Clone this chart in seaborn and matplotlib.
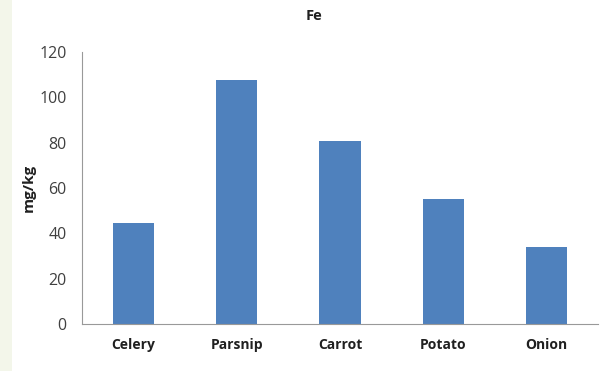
import matplotlib
matplotlib.use("Agg")
import matplotlib.pyplot as plt
import seaborn as sns
import pandas as pd
from matplotlib.patches import Rectangle

categories = ["Celery", "Parsnip", "Carrot", "Potato", "Onion"]
values = [44.7, 107.4, 80.5, 55.3, 34.2]
yticks = [0, 20, 40, 60, 80, 100, 120]

df = pd.DataFrame({"veg": categories, "fe": values})

sns.set_style("white")
plt.rcParams["font.family"] = ["Open Sans", "DejaVu Sans"]

fig = plt.figure(figsize=(6.06, 3.71), dpi=100)
fig.patches.append(Rectangle((0, 0), 12 / 606, 1, transform=fig.transFigure,
                             facecolor="#f3f6ea", edgecolor="none", zorder=0))
ax = fig.add_axes([82 / 606, 1 - 324.3 / 371, (598 - 82) / 606, (324.3 - 51.7) / 371])

sns.barplot(data=df, x="veg", y="fe", color="#4F81BD", saturation=1, width=0.4,
            ax=ax, edgecolor="none")

ax.set_ylim(0, 120)
ax.set_xlim(-0.5, 4.5)
ax.set_yticks(yticks)
ax.set_yticklabels([str(t) for t in yticks], fontsize=11.5, color="#404040")
ax.set_xticks(range(len(categories)))
ax.set_xticklabels(categories, fontsize=10, fontweight="bold", color="#202020")
ax.set_xticks([i - 0.5 for i in range(len(categories) + 1)], minor=True)
ax.tick_params(axis="x", which="major", length=0, pad=10)
ax.tick_params(axis="x", which="minor", length=5, color="#999999", width=0.8, direction="out")
ax.tick_params(axis="y", length=5, color="#999999", width=0.8, direction="out", pad=6)
for s in ["top", "right"]:
    ax.spines[s].set_visible(False)
for s in ["left", "bottom"]:
    ax.spines[s].set_color("#999999")
    ax.spines[s].set_linewidth(0.8)
ax.set_xlabel("")
ax.set_ylabel("mg/kg", fontsize=11, fontweight="bold", color="#202020")
ax.yaxis.set_label_coords(-0.09, 0.5)
fig.text(314 / 606, 1 - 16 / 371, "Fe", ha="center", va="center", fontsize=10.5,
         fontweight="bold", color="#202020")

fig.savefig("out.png", dpi=100)
